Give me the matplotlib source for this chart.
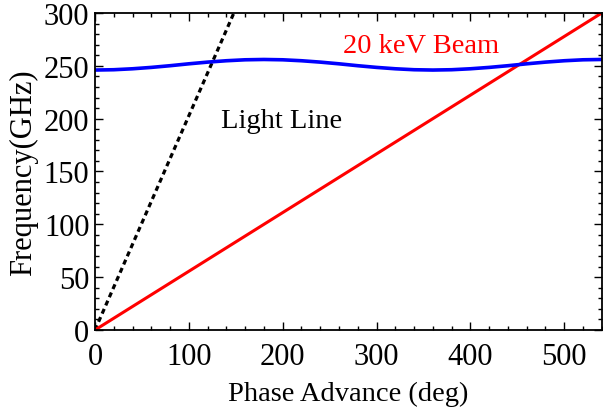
import matplotlib
matplotlib.use("Agg")
import matplotlib.pyplot as plt
from matplotlib.ticker import MultipleLocator

plt.rcParams['font.family'] = ['Liberation Serif', 'DejaVu Serif']
plt.rcParams['mathtext.fontset'] = 'stix'

# Dispersion curve
phase = [0, 20, 40, 60, 80, 100, 120, 140, 160, 180, 200, 220, 240, 260, 280,
         300, 320, 340, 360, 380, 400, 420, 440, 460, 480, 500, 520, 540]
freq = [246.0, 246.3, 247.2, 248.5, 250.1, 251.9, 253.5, 254.8, 255.7, 256.0,
        255.7, 254.8, 253.5, 251.9, 250.1, 248.5, 247.2, 246.3, 246.0, 246.3,
        247.2, 248.5, 250.1, 251.9, 253.5, 254.8, 255.7, 256.0]

beam_x = [0, 540]
beam_y = [0, 300]

light_x = [0, 148]
light_y = [0, 300]

fig = plt.figure(figsize=(6.03, 4.10), dpi=100)
ax = fig.add_axes([0.1575, 0.1927, 0.8405, 0.7732])

ax.plot(light_x, light_y, color='black', lw=2.3, dashes=(1.6, 1.2), clip_on=True)
ax.plot(beam_x, beam_y, color='#ff0000', lw=2.2)
ax.plot(phase, freq, color='#0000ff', lw=2.6)

ax.set_xlim(0, 540)
ax.set_ylim(0, 300)
ax.xaxis.set_major_locator(MultipleLocator(100))
ax.xaxis.set_minor_locator(MultipleLocator(20))
ax.yaxis.set_major_locator(MultipleLocator(50))
ax.yaxis.set_minor_locator(MultipleLocator(10))
ax.tick_params(which='both', direction='in', top=True, right=True, labelsize=22, width=1.0)
ax.tick_params(which='major', length=6)
ax.tick_params(which='minor', length=3)
ax.tick_params(axis='x', which='major', pad=9)
ax.tick_params(axis='y', which='major', pad=4)
for s in ax.spines.values():
    s.set_linewidth(1.3)

ax.set_xlabel('Phase Advance (deg)', fontsize=20.5, labelpad=7)
ax.set_ylabel('Frequency(GHz)', fontsize=22, labelpad=4)

ax.text(134, 198, 'Light Line', fontsize=20.5, color='black', ha='left', va='center')
ax.text(264, 269, '20 keV Beam', fontsize=20.5, color='#ff0000', ha='left', va='center')

fig.savefig('out.png', dpi=100)
